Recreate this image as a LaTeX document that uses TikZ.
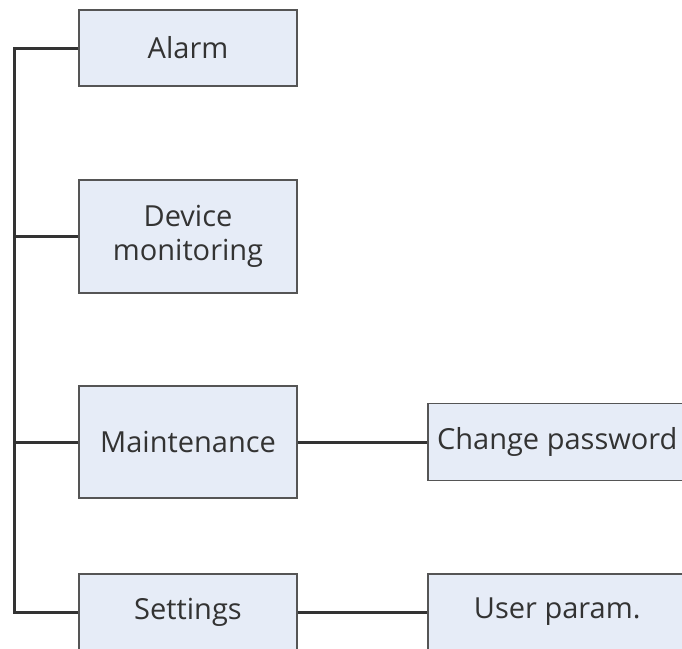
\documentclass[tikz,border=0pt]{standalone}
\usepackage{fontspec}
\setmainfont{Open Sans}
\usepackage{tikz}
\usetikzlibrary{positioning,calc}
\definecolor{ink}{HTML}{333333}
\definecolor{edge}{HTML}{555555}
\definecolor{cell}{HTML}{E6ECF7}
\tikzset{
  box/.style={draw=edge,fill=cell,line width=1.5pt,text=ink,align=center,
              inner sep=0pt,minimum width=218pt,font=\fontsize{29}{34}\selectfont},
  wire/.style={draw=ink,line width=3pt},
}
\begin{document}
\begin{tikzpicture}[x=1pt,y=-1pt]
    \useasboundingbox (0,0) rectangle (682,648);
    \foreach \name/\y/\h/\txt in {
      alarm/48/76/{Alarm},
      monitor/236.5/113/{Device\\monitoring},
      maint/442/112/{Maintenance},
      settings/612/76/{Settings}%
    }{
      \node[box,minimum height=\h pt] (\name) at (188,\y) {\txt};
    }
    \node[box,minimum height=77pt,minimum width=259pt,anchor=west] (passwd) at (427,442) {Change password};
    \node[box,minimum height=76pt,minimum width=259pt,anchor=west] (userparam) at (427,612) {User param.};
    % trunk on the left
    \coordinate (top) at (14,48);
    \coordinate (bot) at (14,612);
    \draw[wire] (alarm.west) -- (top) -- (bot) -- (settings.west);
    \draw[wire] (monitor.west) -- (monitor.west -| top);
    \draw[wire] (maint.west) -- (maint.west -| top);
    % second level
    \draw[wire] (maint.east) -- (passwd.west);
    \draw[wire] (settings.east) -- (userparam.west);
  \end{tikzpicture}
\end{document}
